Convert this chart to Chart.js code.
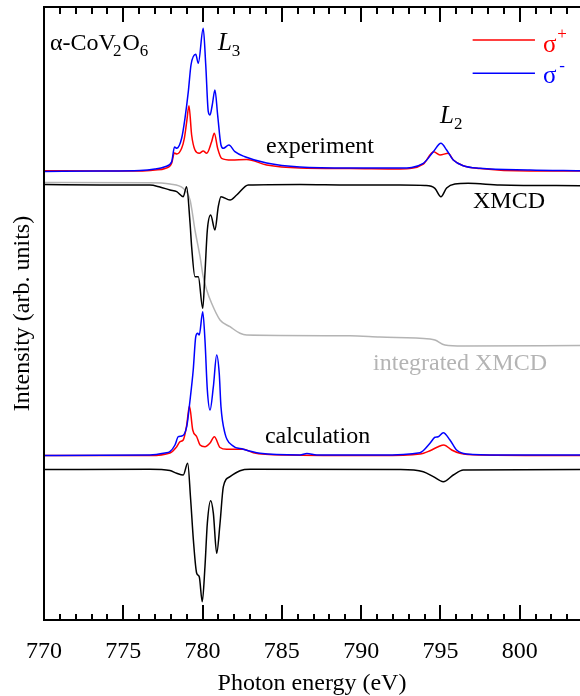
<!DOCTYPE html>
<html>
<head>
<meta charset="utf-8">
<script src="https://cdn.jsdelivr.net/npm/chart.js@4.4.1/dist/chart.umd.min.js"></script>
<style>
html,body{margin:0;padding:0;background:#fff;}
#wrap{width:580px;height:696px;position:relative;}
</style>
</head>
<body>
<div id="wrap"><canvas id="c" width="580" height="696"></canvas></div>
<script>
// ---------- DATA (photon energy in eV, intensity in arb. units, curves stacked as in the figure) ----------
const majorTicks = [770, 775, 780, 785, 790, 795, 800];

// experiment, sigma- (blue)
const expMinusE = [770, 773.53, 776.05, 777.0, 777.63, 778.05, 778.23, 778.37, 778.68, 778.89, 779.10, 779.27, 779.57, 779.73, 780.04, 780.20, 780.36, 780.47, 780.61, 780.78, 780.95, 781.16, 781.31, 781.66, 782.04, 782.67, 784.04, 786.14, 789.29, 792.45, 793.92, 794.55, 795.03, 795.39, 795.81, 796.44, 797.49, 800.64, 803.8];
const expMinusI = [448.5, 449, 449.5, 451, 453.3, 458.3, 473, 471.7, 481.7, 501.7, 528.3, 555, 565.7, 556.7, 591.7, 555, 508.3, 505, 515, 530, 505, 475, 471.7, 475, 468.3, 463.3, 457, 453, 452, 452, 456.7, 468.3, 476.7, 470, 460, 454.3, 451.7, 450, 449.3];

// experiment, sigma+ (red)
const expPlusE = [770, 773.53, 776.05, 777.0, 777.63, 778.05, 778.22, 778.37, 778.68, 778.85, 779.00, 779.14, 779.31, 779.52, 779.79, 780.04, 780.26, 780.57, 780.74, 780.95, 781.20, 781.83, 782.78, 784.04, 786.14, 789.29, 792.45, 793.92, 794.57, 794.97, 795.49, 795.81, 796.44, 797.49, 800.64, 803.8];
const expPlusI = [449.3, 449, 449, 450, 451.5, 456.7, 467, 466, 471.7, 481.7, 498.3, 514.3, 485, 470, 466.7, 469, 466.7, 478.3, 486.7, 471.7, 461.7, 460, 460.5, 455, 452, 451.5, 451, 456, 468.3, 465, 466.7, 460, 454.3, 451.5, 449, 449];

// experiment, XMCD (black)
const expXmcdE = [770, 773.53, 776.68, 777.31, 777.94, 778.37, 778.78, 778.99, 779.21, 779.31, 779.52, 779.73, 780.01, 780.15, 780.30, 780.51, 780.78, 780.99, 781.16, 781.73, 782.15, 782.88, 786.14, 789.29, 792.45, 794.02, 794.65, 795.03, 795.39, 795.91, 796.75, 798.75, 803.8];
const expXmcdI = [435.5, 435, 435, 433, 430, 428.3, 423.3, 433.3, 397, 373.3, 343.3, 343.3, 311.7, 346.7, 390, 405, 390, 413.3, 423.3, 420, 425, 435, 435.5, 435, 435, 434.5, 431.7, 423.3, 432, 436, 436.7, 435, 434.3];

// integrated XMCD (grey)
const intE = [770, 776.68, 777.94, 778.78, 779.21, 779.52, 779.84, 780.04, 780.26, 780.57, 781.10, 781.73, 782.36, 782.78, 789.29, 791.18, 794.34, 794.65, 795.28, 796.42, 803.8];
const intI = [437.5, 437.3, 436, 431.7, 420, 390, 363.3, 343.3, 330, 316.7, 300, 293.3, 286.7, 285, 284.3, 283, 281, 280, 275, 274, 274.5];

// calculation, sigma- (blue)
const calcMinusE = [770, 776.68, 777.63, 777.94, 778.26, 778.47, 778.68, 779.00, 779.21, 779.41, 779.57, 779.69, 779.79, 780.01, 780.15, 780.30, 780.47, 780.68, 780.89, 781.05, 781.16, 781.41, 781.84, 782.57, 783.62, 786.14, 786.58, 787.2, 791.18, 793.71, 794.34, 794.65, 794.86, 795.18, 795.60, 796.02, 796.65, 798.75, 803.8];
const calcMinusI = [164.5, 165, 167, 168.3, 175, 183.3, 184, 193.3, 220, 250, 283.3, 286.7, 285, 308.3, 280, 230, 210, 233.3, 265, 246.7, 213.3, 186.7, 175, 170.7, 166.7, 165, 166.5, 165, 165, 167.3, 176.7, 182.7, 183.3, 187.3, 180, 170, 166, 165, 165];

// calculation, sigma+ (red)
const calcPlusE = [770, 776.68, 777.94, 778.37, 778.58, 778.78, 779.00, 779.17, 779.38, 779.63, 779.84, 780.15, 780.47, 780.74, 781.10, 781.52, 782.57, 783.20, 785.07, 791.18, 793.71, 794.34, 794.86, 795.22, 795.71, 796.23, 797.49, 803.8];
const calcPlusI = [164.5, 164.5, 167, 173.3, 178.3, 180, 195, 214, 190, 183.3, 175, 173.3, 177, 183.3, 172.5, 170.7, 170.7, 167.3, 165, 164.5, 166, 169.3, 173.3, 175, 170, 166.7, 165, 164.5];

// calculation, XMCD (black)
const calcXmcdE = [770, 776.68, 777.94, 778.37, 778.78, 779.06, 779.25, 779.42, 779.63, 779.79, 779.98, 780.15, 780.30, 780.51, 780.68, 780.89, 781.10, 781.31, 781.73, 782.36, 783.0, 792.45, 793.92, 794.55, 795.18, 795.81, 796.44, 803.8];
const calcXmcdI = [150.5, 150.7, 149.5, 146.7, 145, 156.7, 120, 80, 46.7, 43.3, 18.3, 53.3, 96.7, 119.3, 106.7, 66.7, 96.7, 133.3, 143.3, 149.3, 150.7, 150.5, 148.3, 143.3, 138.3, 145, 150, 150.5];

// ---------- RENDER ----------
const FONT = "'Liberation Serif','Times New Roman',serif";
const pts = (E, I) => E.map((e, i) => ({x: e, y: I[i]}));
const RED = '#ff0000', BLUE = '#0000ff', BLACK = '#000000', GREY = '#b4b4b4';

function ds(label, E, I, color) {
  return {label, data: pts(E, I), borderColor: color, backgroundColor: color,
          borderWidth: 1.5, pointRadius: 0, fill: false, cubicInterpolationMode: 'monotone'};
}

function drawParts(ctx, x, y, parts, color) {
  let cx = x;
  ctx.fillStyle = color;
  ctx.textBaseline = 'alphabetic';
  ctx.textAlign = 'left';
  for (const [t, size, dy, italic, dx] of parts) {
    cx += (dx || 0);
    ctx.font = (italic ? 'italic ' : '') + size + 'px ' + FONT;
    ctx.fillText(t, cx, y + dy);
    cx += ctx.measureText(t).width;
  }
}

const framePlugin = {
  id: 'frame',
  afterDraw(chart) {
    const {ctx, chartArea: a, scales: {x, y}} = chart;
    ctx.save();
    ctx.strokeStyle = '#000';
    ctx.lineWidth = 2;
    ctx.beginPath();
    ctx.moveTo(a.left - 1, a.top); ctx.lineTo(a.right, a.top);
    ctx.moveTo(a.left, a.top - 1); ctx.lineTo(a.left, a.bottom + 1);
    ctx.moveTo(a.left - 1, a.bottom); ctx.lineTo(a.right, a.bottom);
    ctx.stroke();
    ctx.lineWidth = 2;
    ctx.beginPath();
    for (let v = Math.ceil(x.min); v <= Math.floor(x.max); v++) {
      const px = Math.round(x.getPixelForValue(v));
      const major = majorTicks.includes(v);
      const lb = major ? 15 : 6, lt = major ? 15 : 7;
      ctx.moveTo(px, a.bottom); ctx.lineTo(px, a.bottom - lb);
      ctx.moveTo(px, a.top); ctx.lineTo(px, a.top + lt);
    }
    ctx.stroke();

    // annotations anchored in data coordinates
    const X = v => x.getPixelForValue(v), Y = v => y.getPixelForValue(v);
    drawParts(ctx, X(770.38), Y(570), [['α-CoV', 24, 0], ['2', 17, 6, false, -3], ['O', 24, 0, false, 1], ['6', 17, 6]], '#000');
    drawParts(ctx, X(780.97), Y(570), [['L', 25, 0, true], ['3', 17, 6, false, 0]], '#000');
    drawParts(ctx, X(794.97), Y(497), [['L', 25, 0, true], ['2', 17, 6, false, 0]], '#000');
    drawParts(ctx, X(784.0), Y(467), [['experiment', 24, 0]], '#000');
    drawParts(ctx, X(797.05), Y(412), [['XMCD', 24, 0]], '#000');
    drawParts(ctx, X(783.93), Y(177), [['calculation', 24, 0]], '#000');
    ctx.font = '24px ' + FONT;
    const itxt = 'integrated XMCD';
    drawParts(ctx, X(801.72) - ctx.measureText(itxt).width, Y(250), [[itxt, 24, 0]], GREY);

    // legend
    ctx.lineWidth = 1.5;
    ctx.strokeStyle = RED;
    ctx.beginPath(); ctx.moveTo(X(797.03), Y(580)); ctx.lineTo(X(800.96), Y(580)); ctx.stroke();
    ctx.strokeStyle = BLUE;
    ctx.beginPath(); ctx.moveTo(X(797.03), Y(546.7)); ctx.lineTo(X(800.96), Y(546.7)); ctx.stroke();
    drawParts(ctx, X(801.46), Y(568), [['σ', 25, 0], ['+', 17, -13, false, 1]], RED);
    drawParts(ctx, X(801.46), Y(537), [['σ', 25, 0], ['-', 17, -12, false, 3]], BLUE);
    ctx.restore();
  }
};

new Chart(document.getElementById('c'), {
  type: 'line',
  data: {
    datasets: [
      ds('experiment σ-', expMinusE, expMinusI, BLUE),
      ds('experiment σ+', expPlusE, expPlusI, RED),
      ds('calculation σ-', calcMinusE, calcMinusI, BLUE),
      ds('calculation σ+', calcPlusE, calcPlusI, RED),
      ds('experiment XMCD', expXmcdE, expXmcdI, BLACK),
      ds('calculation XMCD', calcXmcdE, calcXmcdI, BLACK),
      ds('integrated XMCD', intE, intI, GREY)
    ]
  },
  options: {
    responsive: false,
    animation: false,
    devicePixelRatio: 1,
    layout: {padding: {left: 0, top: 7, right: 0, bottom: 0}},
    plugins: {legend: {display: false}, tooltip: {enabled: false}},
    scales: {
      x: {
        type: 'linear', min: 770, max: 803.8,
        border: {display: false},
        grid: {display: true, drawOnChartArea: false, drawTicks: true, tickLength: 20, tickColor: 'rgba(0,0,0,0)'},
        ticks: {stepSize: 1, autoSkip: false, maxRotation: 0, minRotation: 0, padding: 0, color: '#000',
                font: {family: FONT, size: 24, lineHeight: 1},
                callback: v => majorTicks.includes(v) ? String(v) : ''},
        title: {display: true, text: 'Photon energy (eV)', color: '#000',
                font: {family: FONT, size: 24, lineHeight: 1}, padding: {top: 8, bottom: 0}}
      },
      y: {
        min: 0, max: 613,
        border: {display: false},
        grid: {display: false, drawTicks: false},
        ticks: {display: false},
        title: {display: true, text: 'Intensity (arb. units)', color: '#000',
                font: {family: FONT, size: 24, lineHeight: 1}, padding: {top: 11, bottom: 9}}
      }
    }
  },
  plugins: [framePlugin]
});
</script>
</body>
</html>
